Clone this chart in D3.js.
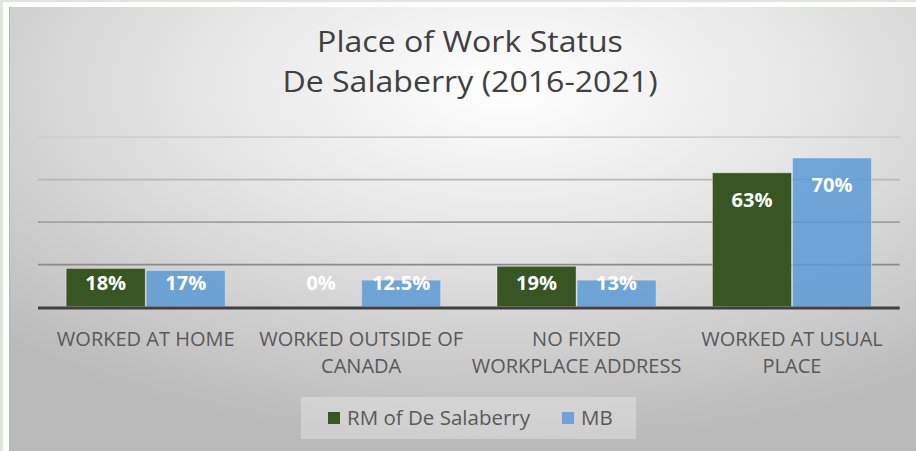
<!DOCTYPE html>
<html>
<head>
<meta charset="utf-8">
<script src="https://cdn.jsdelivr.net/npm/d3@7"></script>
<style>
  html, body { margin: 0; padding: 0; background: #ffffff; }
  svg { display: block; }
</style>
</head>
<body>
<svg id="chart" width="916" height="451"></svg>
<script>
// ---- data ----
const categories = ["WORKED AT HOME", "WORKED OUTSIDE OF CANADA", "NO FIXED WORKPLACE ADDRESS", "WORKED AT USUAL PLACE"];
const tickLabels = [["WORKED AT HOME"], ["WORKED OUTSIDE OF", "CANADA"], ["NO FIXED", "WORKPLACE ADDRESS"], ["WORKED AT USUAL", "PLACE"]];
const seriesNames = ["RM of De Salaberry", "MB"];
const rmValues = [18, 0, 19, 63];
const mbValues = [17, 12.5, 12.5, 70];
const rmLabels = ["18%", "0%", "19%", "63%"];
const mbLabels = ["17%", "12.5%", "13%", "70%"];
const gridTicks = [0, 20, 40, 60, 80];
const titleLines = ["Place of Work Status", "De Salaberry (2016-2021)"];

const colors = { "RM of De Salaberry": "#375623", "MB": "#5b9bd5" };
const font = "'Open Sans', 'Noto Sans', sans-serif";

const svg = d3.select("#chart");
const W = 916, H = 451;

// ---- frame / background ----
const defs = svg.append("defs");
const rg = defs.append("radialGradient").attr("id", "bg")
  .attr("cx", "0.55").attr("cy", "0.18").attr("r", "0.8").attr("fx", "0.55").attr("fy", "0.18");
rg.append("stop").attr("offset", "0").attr("stop-color", "#ffffff");
rg.append("stop").attr("offset", "0.45").attr("stop-color", "#e4e4e4");
rg.append("stop").attr("offset", "1").attr("stop-color", "#bababa");

svg.append("rect").attr("x", 0).attr("y", 0).attr("width", W).attr("height", 2).attr("fill", "#dfe7dc");
svg.append("rect").attr("x", 0).attr("y", 0).attr("width", 3).attr("height", H).attr("fill", "#dfe7dc");
svg.append("rect").attr("x", 9).attr("y", 7).attr("width", W - 9).attr("height", H - 7).attr("fill", "url(#bg)");
svg.append("line").attr("x1", 9.5).attr("x2", 9.5).attr("y1", 7).attr("y2", H)
  .attr("stroke", "#b5b5b5").attr("stroke-width", 1);

// ---- title ----
const titleCx = 470;
svg.append("g").attr("transform", `translate(${titleCx},0) scale(1.07,1)`)
  .append("text").attr("text-anchor", "middle").attr("font-family", font)
  .attr("font-size", 30).attr("fill", "#404040")
  .selectAll("tspan").data(titleLines).join("tspan")
  .attr("x", 0).attr("y", (d, i) => 52 + i * 40).text(d => d);

// ---- scales ----
const plotLeft = 38, plotRight = 899.7;
const x0 = d3.scaleBand().domain(categories).range([plotLeft, plotRight]).padding(0);
const x1 = d3.scaleBand().domain(seriesNames).range([0, x0.bandwidth()])
  .paddingInner(0).paddingOuter(0.346);
const y = d3.scaleLinear().domain([0, 80]).range([306.7, 136.7]);

// ---- gridlines ----
const gridColor = d3.scaleLinear().domain([20, 80]).range(["#8a8a8a", "#cfcfcf"]);
const grid = svg.append("g").attr("transform", `translate(${plotLeft},0)`)
  .call(d3.axisLeft(y).tickValues(gridTicks.filter(t => t > 0)).tickSize(-(plotRight - plotLeft)).tickFormat(""));
grid.select(".domain").remove();
grid.selectAll(".tick line").attr("stroke", d => gridColor(d)).attr("stroke-width", 1.8);

// ---- bars ----
const rows = categories.map((c, i) => ({
  cat: c,
  items: [
    { s: seriesNames[0], v: rmValues[i], label: rmLabels[i] },
    { s: seriesNames[1], v: mbValues[i], label: mbLabels[i] }
  ]
}));

const groups = svg.append("g").selectAll("g").data(rows).join("g")
  .attr("transform", d => `translate(${x0(d.cat)},0)`);

groups.selectAll("rect").data(d => d.items.filter(it => it.v > 0)).join("rect")
  .attr("x", d => x1(d.s) + 0.5)
  .attr("y", d => y(d.v))
  .attr("width", x1.bandwidth() - 1)
  .attr("height", d => y(0) - y(d.v))
  .attr("fill", d => colors[d.s])
  .attr("fill-opacity", d => d.s === "MB" ? 0.85 : 1)
  .attr("stroke", "#ffffff").attr("stroke-opacity", 0.35).attr("stroke-width", 1);

groups.selectAll("text").data(d => d.items).join("text")
  .attr("x", d => x1(d.s) + x1.bandwidth() / 2)
  .attr("y", d => Math.min(y(d.v) + 34, y(0) - 17))
  .attr("text-anchor", "middle")
  .attr("font-family", font).attr("font-weight", "bold").attr("font-size", 20)
  .attr("fill", "#ffffff")
  .text(d => d.label);

// ---- baseline ----
svg.append("line").attr("x1", plotLeft).attr("x2", plotRight)
  .attr("y1", y(0) + 1.2).attr("y2", y(0) + 1.2)
  .attr("stroke", "#404040").attr("stroke-width", 3);

// ---- category labels ----
const cl = svg.append("g").selectAll("text").data(categories).join("text")
  .attr("text-anchor", "middle").attr("font-family", font).attr("font-size", 20)
  .attr("fill", "#595959");
cl.selectAll("tspan").data((d, i) => tickLabels[i].map(t => ({ t, c: d }))).join("tspan")
  .attr("x", d => x0(d.c) + x0.bandwidth() / 2)
  .attr("y", (d, i) => 345.5 + i * 27.5)
  .text(d => d.t);

// ---- legend ----
svg.append("rect").attr("x", 301).attr("y", 397).attr("width", 335).attr("height", 42)
  .attr("fill", "#ffffff").attr("fill-opacity", 0.3);
const legendX = [328, 562];
const lg = svg.append("g").selectAll("g").data(seriesNames).join("g")
  .attr("transform", (d, i) => `translate(${legendX[i]},412)`);
lg.append("rect").attr("width", 12).attr("height", 12).attr("fill", d => colors[d])
  .attr("fill-opacity", d => d === "MB" ? 0.85 : 1);
lg.append("text").attr("x", 19).attr("y", 12.5).attr("font-family", font).attr("font-size", 20.5)
  .attr("fill", "#595959").text(d => d);
</script>
</body>
</html>
